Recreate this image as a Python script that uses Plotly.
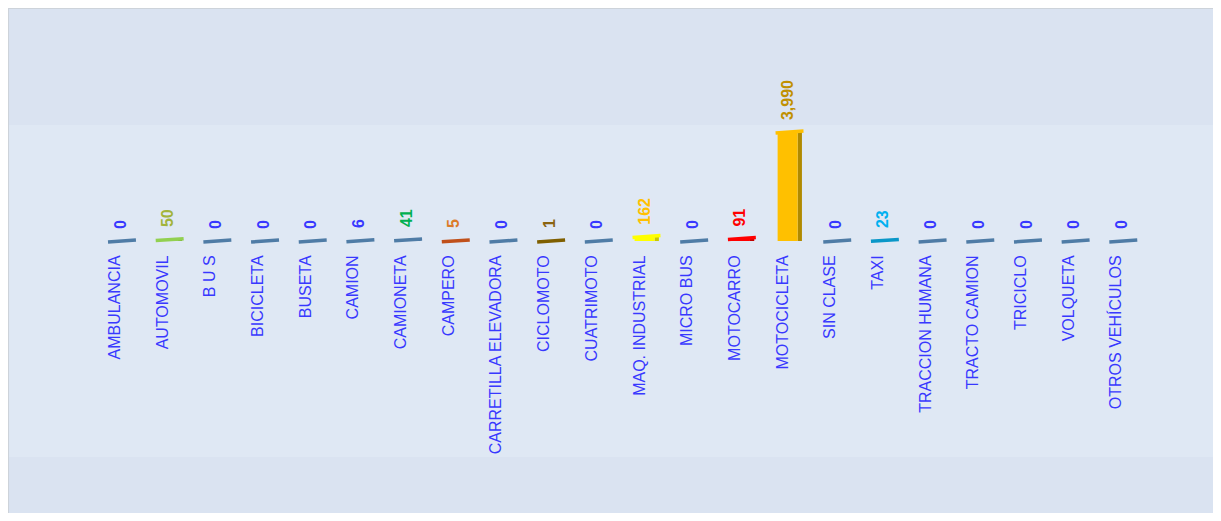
import plotly.graph_objects as go

categories = ["AMBULANCIA", "AUTOMOVIL", "B U S", "BICICLETA", "BUSETA", "CAMION",
              "CAMIONETA", "CAMPERO", "CARRETILLA ELEVADORA", "CICLOMOTO", "CUATRIMOTO",
              "MAQ. INDUSTRIAL", "MICRO BUS", "MOTOCARRO", "MOTOCICLETA", "SIN CLASE",
              "TAXI", "TRACCION HUMANA", "TRACTO CAMION", "TRICICLO", "VOLQUETA",
              "OTROS VEHÍCULOS"]
values = [0, 50, 0, 0, 0, 6, 41, 5, 0, 1, 0, 162, 0, 91, 3990, 0, 23, 0, 0, 0, 0, 0]

STEEL = "#4f7ca6"
bar_colors = [STEEL, "#92d050", STEEL, STEEL, STEEL, STEEL, STEEL, "#c0501a", STEEL,
              "#7f5f00", STEEL, "#ffff00", STEEL, "#ff0000", "#ffc000", STEEL,
              "#0a97c8", STEEL, STEEL, STEEL, STEEL, STEEL]
side_colors = ["#3b6185", "#6fa030", "#3b6185", "#3b6185", "#3b6185", "#3b6185",
               "#3b6185", "#8f3a10", "#3b6185", "#5a4300", "#3b6185", "#c8c800",
               "#3b6185", "#c00000", "#b08a00", "#3b6185", "#07739a", "#3b6185",
               "#3b6185", "#3b6185", "#3b6185", "#3b6185"]
BLUE = "#3838ff"
label_colors = [BLUE, "#a2b43a", BLUE, BLUE, BLUE, BLUE, "#00b050", "#dc7a28", BLUE,
                "#8a6410", BLUE, "#ffc000", BLUE, "#ff0000", "#c09000", BLUE,
                "#00b0f0", BLUE, BLUE, BLUE, BLUE, BLUE]

FONT = "Liberation Sans, Arial, sans-serif"

x = list(range(len(categories)))
labels = ["  " + f"{v:,}" for v in values]

fig = go.Figure()
# side face of the pseudo-3D bars
fig.add_bar(x=x, y=values, width=0.09, offset=0.32,
            marker=dict(color=side_colors, line_width=0),
            hoverinfo="skip", showlegend=False)
# front face with value labels
fig.add_bar(x=x, y=values, width=0.42, offset=-0.1,
            marker=dict(color=bar_colors, line_width=0),
            text=labels, textposition="outside", textangle=-90,
            constraintext="none", cliponaxis=False,
            textfont=dict(family=FONT, size=16, color=label_colors, weight="bold"),
            showlegend=False)
# top face
fig.add_scatter(x=[i + 0.15 for i in x], y=values, mode="markers",
                marker=dict(symbol="line-ew", size=20, angle=-4,
                            line=dict(width=3.5, color=bar_colors)),
                cliponaxis=False, hoverinfo="skip", showlegend=False)

fig.update_layout(
    width=1205, height=505,
    margin=dict(l=83, r=73, t=2, b=272),
    paper_bgcolor="#dae3f1", plot_bgcolor="rgba(0,0,0,0)",
    barmode="overlay",
    shapes=[
        dict(type="rect", xref="paper", yref="paper", x0=-0.2, x1=1.2,
             y0=-0.935, y1=0.502, fillcolor="#dfe8f4", line_width=0, layer="below"),
        dict(type="rect", xref="paper", yref="paper", x0=-0.0791, x1=1.1,
             y0=-1.3, y1=1.0087, fillcolor="rgba(0,0,0,0)",
             line=dict(color="#cdd3da", width=2), layer="below"),
    ],
    xaxis=dict(tickmode="array", tickvals=x, ticktext=categories, tickangle=-90,
               range=[-0.5, len(categories) - 0.5], showgrid=False, zeroline=False,
               showline=False, ticks="outside", ticklen=7, tickcolor="rgba(0,0,0,0)",
               tickfont=dict(family=FONT, size=16, color=BLUE)),
    yaxis=dict(visible=False, range=[0, 8456], showgrid=False, zeroline=False),
)

fig.write_html("out.html")
